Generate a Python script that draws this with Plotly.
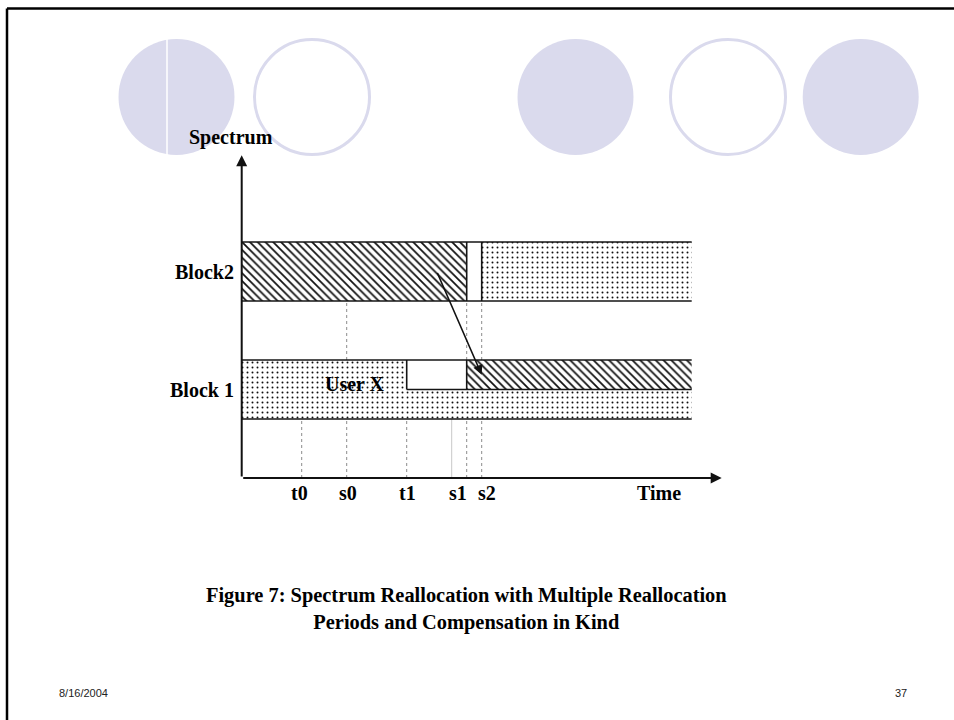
import plotly.graph_objects as go

W, H = 954, 720

# ---- data: time marks on the time axis ----
mark_labels = ["t0", "s0", "t1", "s1", "s2"]
mark_times = [2.0, 3.5, 5.5, 7.5, 8.0]
mark_label_shift = [-2, 1, 1, -9, 5]          # label nudges in px
gap_mark_times = [3.5, 7.5, 8.0]               # marks whose guide continues between blocks
extra_guide_time = 7.0                         # unlabeled faint guide

# ---- data: spectrum blocks ----
block_names = ["Block 1", "Block2"]
block_bottom = [1.0, 3.0]
block_top = [2.0, 4.0]
block_end_time = 15.0

# ---- data: occupancy segments ----
seg_center = [3.5, 3.5, 3.5, 1.5, 1.75, 1.75, 1.25]
seg_height = [1.0, 1.0, 1.0, 1.0, 0.5, 0.5, 0.5]
seg_start = [0.0, 7.5, 8.0, 0.0, 5.5, 7.5, 5.5]
seg_end = [7.5, 8.0, 15.0, 5.5, 7.5, 15.0, 15.0]
seg_fill = ["\\", "", ".", ".", "", "\\", "."]

# dividers inside blocks: (time, y0, y1)
div_time = [7.5, 8.0, 5.5, 7.5]
div_y0 = [3.0, 3.0, 1.5, 1.5]
div_y1 = [4.0, 4.0, 2.0, 2.0]
half_line_y = 1.5
half_line_start = 5.5

# compensation arrow
arrow_from = (6.5, 3.5)
arrow_to = (8.0, 1.75)

time_axis_end = 16.0
spectrum_axis_end = 5.47

caption_lines = ["Figure 7: Spectrum Reallocation with Multiple Reallocation",
                 "Periods and Compensation in Kind"]

# ---- pixel geometry of the slide ----
X0PX, XS = 241.7, 30.0
Y0PX, YS = 478.0, 59.0
xr = [-X0PX / XS, (W - X0PX) / XS]
yr = [-(H - Y0PX) / YS, Y0PX / YS]


def px(x):
    return x / W


def py(y):
    return 1 - y / H


SERIF = "Liberation Serif"
fig = go.Figure()

# pattern bars
sizes = [5.5 if f == "\\" else 5 for f in seg_fill]
solid = [0.32 if f == "\\" else 0.12 for f in seg_fill]
fig.add_trace(go.Bar(
    orientation="h",
    y=seg_center,
    x=[e - s for s, e in zip(seg_start, seg_end)],
    base=seg_start,
    width=seg_height,
    marker=dict(color="white", line=dict(width=0),
                pattern=dict(shape=seg_fill, fgcolor="#111", bgcolor="white",
                             size=sizes, solidity=solid, fillmode="replace")),
    hoverinfo="skip", showlegend=False,
))

# guide lines (dotted)
gx, gy = [], []
for t in mark_times:
    gx += [t, t, None]
    gy += [0, block_bottom[0], None]
    if t in gap_mark_times:
        gx += [t, t, None]
        gy += [block_top[0], block_bottom[1], None]
fig.add_trace(go.Scatter(x=gx, y=gy, mode="lines",
                         line=dict(color="#8c8c8c", width=1, dash="dot"),
                         hoverinfo="skip", showlegend=False))
fig.add_trace(go.Scatter(x=[extra_guide_time, extra_guide_time], y=[0, block_bottom[0]],
                         mode="lines", line=dict(color="#c8c8c8", width=1),
                         hoverinfo="skip", showlegend=False))

# block outlines
ox, oy = [], []
for b, t in zip(block_bottom, block_top):
    ox += [0, block_end_time, None, 0, block_end_time, None]
    oy += [b, b, None, t, t, None]
ox += [half_line_start, block_end_time, None]
oy += [half_line_y, half_line_y, None]
for t, a, b in zip(div_time, div_y0, div_y1):
    ox += [t, t, None]
    oy += [a, b, None]
fig.add_trace(go.Scatter(x=ox, y=oy, mode="lines",
                         line=dict(color="#141414", width=1.6),
                         hoverinfo="skip", showlegend=False))

annotations = []
# axes with arrows
annotations.append(dict(x=0, y=spectrum_axis_end, ax=0, ay=0, xref="x", yref="y",
                        axref="x", ayref="y", showarrow=True, arrowhead=2,
                        arrowsize=1.1, arrowwidth=2, arrowcolor="#111", text=""))
annotations.append(dict(x=time_axis_end, y=0, ax=0, ay=0, xref="x", yref="y",
                        axref="x", ayref="y", showarrow=True, arrowhead=2,
                        arrowsize=1.1, arrowwidth=2, arrowcolor="#111", text=""))
# compensation arrow
annotations.append(dict(x=arrow_to[0], y=arrow_to[1], ax=arrow_from[0], ay=arrow_from[1],
                        xref="x", yref="y", axref="x", ayref="y", showarrow=True,
                        arrowhead=2, arrowsize=1.2, arrowwidth=1.6, arrowcolor="#111", text=""))

lab_font = dict(family=SERIF, size=20, color="black")
for lab, t, sh in zip(mark_labels, mark_times, mark_label_shift):
    annotations.append(dict(x=t, y=-0.255, xref="x", yref="y", text="<b>%s</b>" % lab,
                            showarrow=False, font=lab_font, xshift=sh))
annotations.append(dict(x=13.9, y=-0.255, xref="x", yref="y", text="<b>Time</b>",
                        showarrow=False, font=lab_font))
annotations.append(dict(x=-0.37, y=5.775, xref="x", yref="y", text="<b>Spectrum</b>",
                        showarrow=False, font=lab_font))
for name, b, t in zip(block_names, block_bottom, block_top):
    annotations.append(dict(x=0, y=(b + t) / 2, xref="x", yref="y", text="<b>%s</b>" % name,
                            showarrow=False, font=lab_font, xanchor="right", xshift=-6))
annotations.append(dict(x=3.78, y=1.6, xref="x", yref="y", text="<b>User X</b>",
                        showarrow=False, font=lab_font))

# caption (one text block, two centered lines)
cap_font = dict(family=SERIF, size=20.4, color="black")
annotations.append(dict(x=px(466.5), y=py(609), xref="paper", yref="paper",
                        xanchor="center", yanchor="middle", align="center",
                        text="<b>" + "<br>".join(caption_lines) + "</b>",
                        showarrow=False, font=cap_font))
# footer
foot_font = dict(family="Liberation Sans", size=11, color="#222")
annotations.append(dict(x=px(57), y=py(693), xref="paper", yref="paper", text="8/16/2004",
                        showarrow=False, font=foot_font, xanchor="left", yanchor="middle"))
annotations.append(dict(x=px(909), y=py(693), xref="paper", yref="paper", text="37",
                        showarrow=False, font=foot_font, xanchor="right", yanchor="middle"))

# decorative circles
LAV = "#dadaed"
shapes = []
for cx, filled in [(176.5, True), (312, False), (575.5, True), (728, False), (860.7, True)]:
    r = 58 if filled else 57.5
    shapes.append(dict(type="circle", xref="paper", yref="paper", layer="below",
                       x0=px(cx - r), x1=px(cx + r), y0=py(97 + r), y1=py(97 - r),
                       fillcolor=LAV if filled else "rgba(0,0,0,0)",
                       line=dict(color=LAV, width=0 if filled else 3)))
shapes.append(dict(type="line", xref="paper", yref="paper", layer="below",
                   x0=px(167), x1=px(167), y0=py(38), y1=py(156),
                   line=dict(color="white", width=1.5)))
# slide border (top and left)
shapes.append(dict(type="line", xref="paper", yref="paper", x0=px(7), x1=1, y0=py(8.5), y1=py(8.5),
                   line=dict(color="black", width=2.5)))
shapes.append(dict(type="line", xref="paper", yref="paper", x0=px(7), x1=px(7), y0=py(8.5), y1=0,
                   line=dict(color="black", width=2.5)))

fig.update_layout(
    width=W, height=H, margin=dict(l=0, r=0, t=0, b=0),
    paper_bgcolor="white", plot_bgcolor="rgba(0,0,0,0)",
    barmode="overlay",
    xaxis=dict(range=xr, visible=False, fixedrange=True),
    yaxis=dict(range=yr, visible=False, fixedrange=True),
    annotations=annotations, shapes=shapes, showlegend=False,
)

fig.write_html("out.html", config={"displayModeBar": False, "staticPlot": True},
               post_script="document.body.style.margin='0px';document.body.style.overflow='hidden';")
